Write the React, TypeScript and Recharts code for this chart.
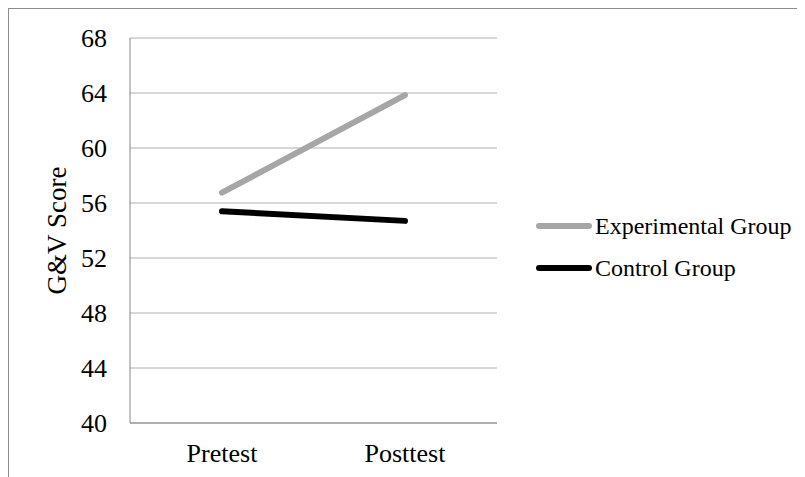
import { LineChart, Line, XAxis, YAxis, CartesianGrid, Legend } from 'recharts';

// values
const categories = ['Pretest', 'Posttest'];
const experimentalScores = [56.75, 63.85];
const controlScores = [55.4, 54.7];
const yTicks = [40, 44, 48, 52, 56, 60, 64, 68];
const seriesOrder = ['Experimental Group', 'Control Group'];

const seriesColors = { experimental: '#a6a6a6', control: '#000000' };
const font = '"Liberation Serif", "Times New Roman", serif';

const data = categories.map((name, i) => ({
  name,
  experimental: experimentalScores[i],
  control: controlScores[i],
}));

// legend: short thick line sample followed by the label
// zero-height outer box so the legend doesn't eat plot space
const renderLegend = (props: any) => {
  const items = [...(props.payload || [])].sort(
    (a: any, b: any) => seriesOrder.indexOf(a.value) - seriesOrder.indexOf(b.value)
  );
  return (
    <div style={{ height: 0, overflow: 'visible', fontFamily: font }}>
      {items.map((entry: any) => (
        <div key={entry.value} style={{ display: 'flex', alignItems: 'center', height: 42 }}>
          <svg width={58} height={8} style={{ display: 'block' }}>
            <line x1={4} y1={4} x2={54} y2={4} stroke={entry.color} strokeWidth={6} strokeLinecap="round" />
          </svg>
          <span style={{ fontSize: 24, color: '#000', marginLeft: 2, lineHeight: '24px' }}>{entry.value}</span>
        </div>
      ))}
    </div>
  );
};

export default function App() {
  return (
    <div
      style={{
        width: 797,
        height: 469,
        boxSizing: 'border-box',
        borderTop: '1px solid #8c8c8c',
        borderLeft: '1px solid #8c8c8c',
        background: '#fff',
        overflow: 'hidden',
      }}
    >
      <LineChart
        width={796}
        height={468}
        data={data}
        margin={{ top: 29, right: 308, left: 0, bottom: 0 }}
        style={{ fontFamily: font }}
      >
        <CartesianGrid vertical={false} stroke="#b0b0b0" />
        <XAxis
          dataKey="name"
          height={54}
          padding={{ left: 92, right: 92 }}
          tickLine={false}
          tickSize={0}
          tickMargin={21}
          axisLine={{ stroke: '#868686' }}
          tick={{ fontSize: 26, fill: '#000', fontFamily: font }}
        />
        <YAxis
          width={121}
          domain={[40, 68]}
          ticks={yTicks}
          interval={0}
          tickLine={false}
          tickSize={0}
          tickMargin={23}
          axisLine={{ stroke: '#868686' }}
          tick={{ fontSize: 26, fill: '#000', fontFamily: font }}
          label={{
            value: 'G&V Score',
            angle: -90,
            position: 'insideLeft',
            offset: 47,
            style: { textAnchor: 'middle', fontSize: 27, fill: '#000', fontFamily: font },
          }}
        />
        <Legend
          layout="vertical"
          verticalAlign="top"
          content={renderLegend}
          wrapperStyle={{ left: 526, top: 196, width: 260, height: 0 }}
        />
        <Line
          type="linear"
          dataKey="experimental"
          name="Experimental Group"
          stroke={seriesColors.experimental}
          strokeWidth={6}
          strokeLinecap="round"
          dot={false}
          activeDot={false}
          isAnimationActive={false}
        />
        <Line
          type="linear"
          dataKey="control"
          name="Control Group"
          stroke={seriesColors.control}
          strokeWidth={6}
          strokeLinecap="round"
          dot={false}
          activeDot={false}
          isAnimationActive={false}
        />
      </LineChart>
    </div>
  );
}
